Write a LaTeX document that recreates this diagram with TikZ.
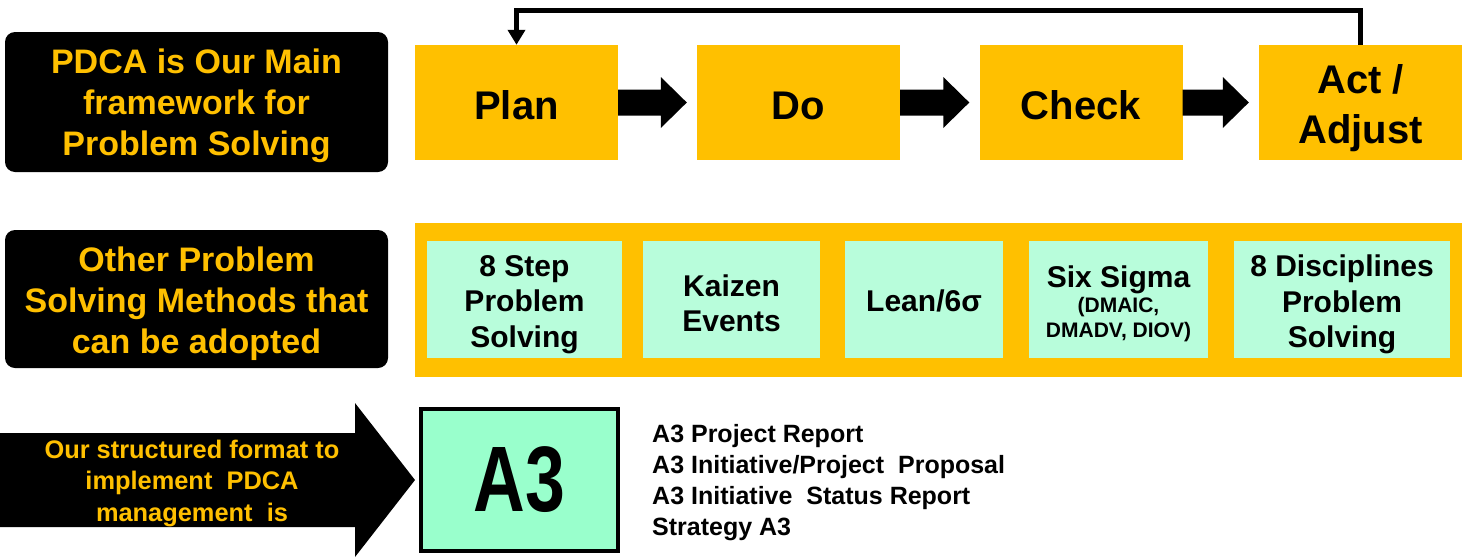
\documentclass[tikz,border=0pt]{standalone}
\usepackage{fontspec}
\usepackage{graphicx}
\setmainfont{Liberation Sans}
\usetikzlibrary{calc,arrows.meta}

\definecolor{gold}{HTML}{FFC000}
\definecolor{mint}{HTML}{B8FDDB}
\definecolor{aqua}{HTML}{99FFCC}

% block arrow from the east side of #1 to just short of the west side of #2
\newcommand\fatarrow[2]{%
  \fill ($(#1.east)+(0,13)$) -- ($(#2.west)+(-36,13)$) -- ($(#2.west)+(-36,25.5)$)
     -- ($(#2.west)+(-10,0)$) -- ($(#2.west)+(-36,-25.5)$) -- ($(#2.west)+(-36,-13)$)
     -- ($(#1.east)+(0,-13)$) -- cycle;}

\begin{document}
\begin{tikzpicture}[x=1pt,y=-1pt,
  labelbox/.style={fill=black, rounded corners=10pt, minimum width=383pt, inner sep=0pt},
  labeltext/.style={text=gold, align=center, inner sep=0pt,
    font=\fontsize{34}{41}\selectfont\bfseries},
  stagebox/.style={fill=gold, minimum width=203pt, minimum height=115pt, inner sep=0pt},
  stagetext/.style={align=center, inner sep=0pt, font=\fontsize{40}{49.5}\selectfont\bfseries},
  methodbox/.style={fill=mint, minimum height=117pt, inner sep=0pt},
  methodtext/.style={align=center, inner sep=0pt, font=\fontsize{30}{35.5}\selectfont\bfseries},
  sheetbox/.style={fill=aqua, draw=black, line width=4pt, minimum width=197pt,
    minimum height=142pt, inner sep=0pt},
  loopline/.style={line width=5pt, -{Triangle[width=17pt,length=15pt]}},
]
\useasboundingbox (0,0) rectangle (1464,557);

% ---- PDCA row ----
\node[labelbox, minimum height=140pt] (main) at (196.5,102) {};
\node[labeltext] (maintext) at ($(main)+(0,4)$) {PDCA is Our Main\\framework for\\Problem Solving};

\node[stagebox] (plan)  at (516.5,102.5) {};
\node[stagebox] (do)    at (798.5,102.5) {};
\node[stagebox] (check) at (1081,102.5) {};
\node[stagebox] (act)   at (1360.5,102.5) {};
\node[stagetext] (plantext)  at ($(plan)+(0,3)$)  {Plan};
\node[stagetext] (dotext)    at ($(do)+(0,3)$)    {Do};
\node[stagetext] (checktext) at ($(check)+(0,3)$) {Check};
\node[stagetext] (acttext)   at ($(act)+(0,5.5)$) {Act /\\Adjust};

\fatarrow{plan}{do}
\fatarrow{do}{check}
\fatarrow{check}{act}

\coordinate (loop) at (0,10);
\draw[loopline] (act.north) -- (act.north |- loop) -- (plan.north |- loop) -- (plan.north);

% ---- other methods row ----
\node[labelbox, minimum height=138pt] (other) at (196.5,299) {};
\node[labeltext] (othertext) at ($(other)+(0,5)$) {Other Problem\\Solving Methods that\\can be adopted};

\node[fill=gold, minimum width=1047pt, minimum height=154pt, inner sep=0pt] (tray) at (938.5,300) {};
\node[methodbox, minimum width=195pt] (m1) at (524.5,299.5) {};
\node[methodbox, minimum width=177pt] (m2) at (731.5,299.5) {};
\node[methodbox, minimum width=158pt] (m3) at (924,299.5) {};
\node[methodbox, minimum width=179pt] (m4) at (1118.5,299.5) {};
\node[methodbox, minimum width=216pt] (m5) at (1342,299.5) {};
\node[methodtext] (m1text) at ($(m1)+(0,5)$) {8 Step\\Problem\\Solving};
\node[methodtext] (m2text) at ($(m2)+(0,4)$) {Kaizen\\Events};
\node[methodtext] (m3text) at ($(m3)+(0,1)$) {Lean/6σ};
\node[methodtext] (m4title) at (1118.5,280) {Six Sigma};
\node[methodtext, font=\fontsize{21}{25}\selectfont\bfseries] (m4kinds) at (1118.5,320)
  {(DMAIC,\\DMADV, DIOV)};
\node[methodtext] (m5text) at ($(m5)+(0,5)$) {8 Disciplines\\Problem\\Solving};

% ---- A3 row ----
\node[sheetbox] (a3) at (519.5,480)
  {\fontsize{93}{100}\selectfont\bfseries\scalebox{0.77}[1]{A3}};
\fill (0,433) -- (355,433) -- (355,403) -- ($(a3.west)+(-4,0)$) -- (355,557)
  -- (355,527) -- (0,527) -- cycle;
\node[text=gold, align=center, inner sep=0pt, font=\fontsize{25.4}{31.5}\selectfont\bfseries]
  (fmt) at (192,483) {Our structured format to\\implement\ \ PDCA\\management\ \ is};
\node[anchor=west, align=left, inner sep=0pt, font=\fontsize{25}{31}\selectfont\bfseries]
  (kinds) at (652,482.5)
  {A3 Project Report\\A3 Initiative/Project\ \ Proposal\\A3 Initiative\ \ Status Report\\Strategy A3};
\end{tikzpicture}
\end{document}
